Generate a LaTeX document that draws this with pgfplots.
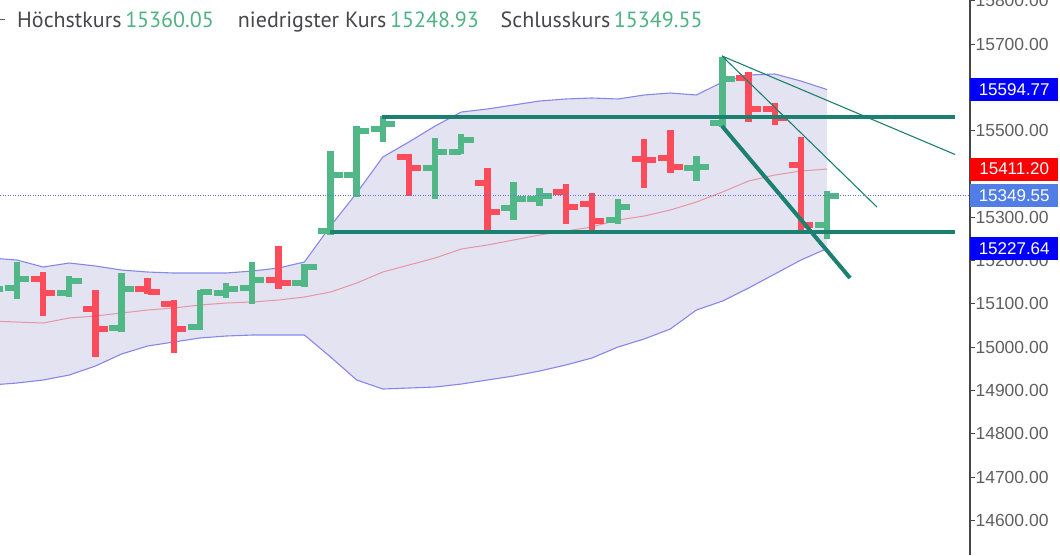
\documentclass[border=0pt]{standalone}
\usepackage{fontspec}
\setmainfont{Liberation Sans}
\newfontfamily\legfont{PT Sans}
\usepackage{pgfplots}
\pgfplotsset{compat=1.18}
\usepgfplotslibrary{fillbetween}
\usepackage{pgfplotstable}

\definecolor{bull}{RGB}{82,183,135}
\definecolor{bear}{RGB}{252,76,92}
\definecolor{bandline}{RGB}{135,135,235}
\definecolor{bandfill}{RGB}{227,227,242}
\definecolor{maline}{RGB}{232,150,160}
\definecolor{trend}{RGB}{28,128,112}
\definecolor{axisgray}{RGB}{70,70,70}
\definecolor{labelgray}{RGB}{95,95,95}
\definecolor{tagblue}{RGB}{0,0,250}
\definecolor{tagred}{RGB}{250,0,0}
\definecolor{tagcur}{RGB}{80,125,230}
\definecolor{dotblue}{RGB}{95,115,230}
\definecolor{legtext}{RGB}{70,70,75}
\definecolor{legnum}{RGB}{80,178,130}

\pgfplotstableread{
i o h l c
-1 15120 15170 15100 15134.2
0 15136.5 15196.5 15111.1 15157.2
2 15124.9 15164.2 15115.7 15152.6
4 15044.1 15171.1 15034.8 15134.2
7 15046.4 15131.8 15039.5 15127.2
8 15124.9 15148.0 15113.4 15134.2
9 15136.5 15196.5 15099.5 15154.9
11 15148.0 15191.9 15138.8 15185.0
12 15268.1 15452.9 15258.9 15397.4
13 15397.4 15510.6 15346.6 15499.1
14 15503.7 15533.7 15473.7 15515.2
16 15413.6 15482.9 15342.0 15450.6
17 15450.6 15492.1 15445.9 15478.3
19 15321.2 15381.3 15293.5 15342.0
20 15342.0 15367.4 15325.8 15348.9
23 15293.5 15342.0 15284.3 15323.5
26 15414.7 15441.3 15383.6 15417.0
27 15517.5 15670.0 15508.3 15619.1
31 15282.0 15360.05 15248.93 15349.55
}\bulldata

\pgfplotstableread{
i o h l c
1 15157.2 15173.4 15071.8 15124.9
3 15088.0 15131.8 14977.1 15041.8
5 15134.2 15159.6 15122.6 15127.2
6 15099.5 15108.7 14986.3 15041.8
10 15154.9 15233.5 15134.2 15148.0
15 15439.0 15445.9 15348.9 15413.6
18 15379.0 15413.6 15268.1 15312.0
21 15358.2 15376.7 15284.3 15323.5
22 15330.5 15355.9 15268.1 15291.2
24 15434.4 15480.6 15367.4 15432.1
25 15436.7 15501.4 15402.1 15415.9
28 15621.5 15635.3 15519.8 15549.9
29 15549.9 15563.7 15512.9 15529.1
30 15420.5 15485.2 15270.4 15282.0
}\beardata

\pgfplotstableread{
i up mid lo
-1 15205.7 15060.3 14912.4
0 15201.1 15057.9 14917.1
1 15185.0 15055.6 14924.0
2 15194.2 15067.2 14935.5
3 15187.3 15071.8 14956.3
4 15178.0 15078.7 14984.0
5 15173.4 15085.7 15002.5
6 15171.1 15090.3 15011.8
7 15171.1 15097.2 15021.0
8 15171.1 15101.8 15025.6
9 15175.7 15104.1 15027.9
10 15182.6 15108.7 15027.9
11 15196.5 15115.7 15027.9
12 15279.7 15127.2 14977.1
13 15355.9 15148.0 14924.0
14 15439.0 15173.4 14903.2
15 15473.7 15189.6 14905.5
16 15510.6 15205.7 14907.8
17 15542.9 15226.5 14914.7
18 15549.9 15235.8 14924.0
19 15559.1 15247.3 14933.2
20 15568.3 15258.9 14944.8
21 15573.0 15268.1 14958.6
22 15575.3 15277.3 14974.8
23 15573.0 15293.5 15000.2
24 15582.2 15302.7 15018.7
25 15586.8 15316.6 15041.8
26 15582.2 15335.1 15085.6
27 15612.2 15358.2 15106.4
28 15628.4 15383.6 15136.5
29 15630.7 15397.4 15168.8
30 15614.5 15406.7 15201.1
31 15594.77 15411.20 15227.64
}\banddata

\begin{document}
\begin{tikzpicture}
\begin{axis}[
  at={(0pt,0pt)}, anchor=south west,
  scale only axis, width=970pt, height=555pt,
  xmin=-0.65, xmax=36.47, ymin=14519.9, ymax=15801.6,
  axis x line=none,
  axis y line*=right,
  axis line style={draw=axisgray, line width=1.2pt},
  ytick={14600,14700,14800,14900,15000,15100,15200,15300,15400,15500,15600,15700,15800},
  yticklabels={14600.00,14700.00,14800.00,14900.00,15000.00,15100.00,15200.00,15300.00,15400.00,15500.00,15600.00,15700.00,15800.00},
  tick align=outside, major tick length=5pt,
  tick style={draw=axisgray, line width=0.8pt},
  yticklabel style={font=\fontsize{17.5}{19}\selectfont, text=labelgray, anchor=west, xshift=-3pt},
]
% Bollinger fill
\addplot[draw=none, name path=U, forget plot] table[x=i, y=up] {\banddata};
\addplot[draw=none, name path=L, forget plot] table[x=i, y=lo] {\banddata};
\addplot[bandfill, forget plot] fill between[of=U and L];
\addplot[bandline, line width=1.1pt, forget plot] table[x=i, y=up] {\banddata};
\addplot[bandline, line width=1.1pt, forget plot] table[x=i, y=lo] {\banddata};
\addplot[maline, line width=1pt, forget plot] table[x=i, y=mid] {\banddata};

% OHLC bars - green
\addplot[draw=none, mark=none, forget plot, error bars/.cd, y dir=plus, y explicit, error mark=none,
  error bar style={draw=bull, line width=6.5pt}]
  table[x=i, y=l, y error plus expr=\thisrow{h}-\thisrow{l}] {\bulldata};
\addplot[draw=none, mark=none, forget plot, error bars/.cd, x dir=minus, x fixed=0.47, error mark=none,
  error bar style={draw=bull, line width=6pt}]
  table[x=i, y=o] {\bulldata};
\addplot[draw=none, mark=none, forget plot, error bars/.cd, x dir=plus, x fixed=0.47, error mark=none,
  error bar style={draw=bull, line width=6pt}]
  table[x=i, y=c] {\bulldata};
% OHLC bars - red
\addplot[draw=none, mark=none, forget plot, error bars/.cd, y dir=plus, y explicit, error mark=none,
  error bar style={draw=bear, line width=6.5pt}]
  table[x=i, y=l, y error plus expr=\thisrow{h}-\thisrow{l}] {\beardata};
\addplot[draw=none, mark=none, forget plot, error bars/.cd, x dir=minus, x fixed=0.47, error mark=none,
  error bar style={draw=bear, line width=6pt}]
  table[x=i, y=o] {\beardata};
\addplot[draw=none, mark=none, forget plot, error bars/.cd, x dir=plus, x fixed=0.47, error mark=none,
  error bar style={draw=bear, line width=6pt}]
  table[x=i, y=c] {\beardata};

% trend lines
\addplot[trend, line width=4pt, forget plot] coordinates {(13.97,15530.3) (35.9,15530.3)};
\addplot[trend, line width=4pt, forget plot] coordinates {(11.98,15264.7) (35.9,15264.7)};
\addplot[trend, line width=4pt, forget plot] coordinates {(26.98,15510.6) (31.88,15159.6)};
\addplot[trend, line width=1.1pt, forget plot] coordinates {(26.98,15672.3) (35.9,15444.8)};
\addplot[trend, line width=1.1pt, forget plot] coordinates {(26.98,15672.3) (32.91,15323.5)};

% current price line
\addplot[dotblue, dash pattern=on 1pt off 1.5pt, line width=1pt, forget plot] coordinates {(-0.65,15349.55) (36.47,15349.55)};

\coordinate (tu) at (axis cs:36.47,15594.77);
\coordinate (tm) at (axis cs:36.47,15411.20);
\coordinate (tc) at (axis cs:36.47,15349.55);
\coordinate (tl) at (axis cs:36.47,15227.64);
\end{axis}
\pgfresetboundingbox
\path[use as bounding box] (0pt,0pt) rectangle (1060pt,555pt);
\tikzset{tag/.style={anchor=west, text=white, minimum width=88pt, minimum height=23pt, inner sep=0pt,
  font=\fontsize{17}{19}\selectfont}}
\node[tag, fill=tagblue] at (tu) {15594.77};
\node[tag, fill=tagred] at (tm) {15411.20};
\node[tag, fill=tagcur] at (tc) {15349.55};
\node[tag, fill=tagblue] at (tl) {15227.64};
\draw[labelgray, line width=1pt] (0pt,535pt) -- (5pt,535pt);
\node[anchor=base west, inner sep=0pt, font=\legfont\fontsize{22}{24}\selectfont] at (17pt,527pt)
  {\textcolor{legtext}{Höchstkurs}\,\textcolor{legnum}{15360.05}\hspace{24pt}\textcolor{legtext}{niedrigster Kurs}\,\textcolor{legnum}{15248.93}\hspace{22pt}\textcolor{legtext}{Schlusskurs}\,\textcolor{legnum}{15349.55}};
\end{tikzpicture}
\end{document}
